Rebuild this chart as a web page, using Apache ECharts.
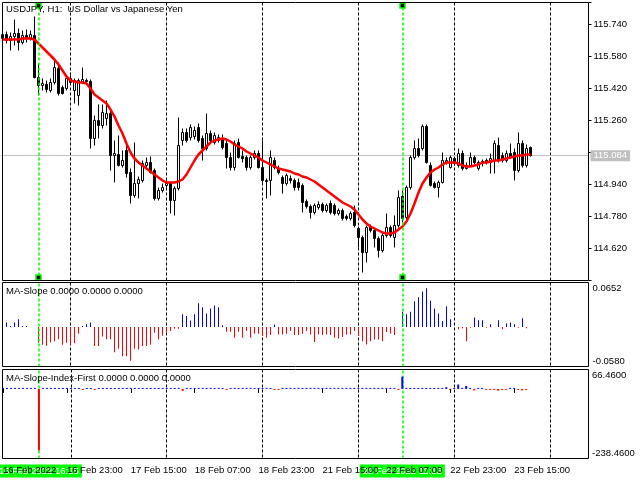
<!DOCTYPE html>
<html><head><meta charset="utf-8">
<script src="https://cdn.jsdelivr.net/npm/echarts@6/dist/echarts.min.js"></script>
<style>html,body{margin:0;padding:0;background:#fff}#c{width:641px;height:480px}</style>
</head><body><div id="c"></div>
<script>
// ---- categories (H1 bars, weekend skipped) ----
const tradingDays = ['16 Feb','17 Feb','18 Feb','21 Feb','22 Feb','23 Feb','24 Feb'];
const firstHour = 7;
const slotCount = 147;
const times = [];
for (let d = 0; d < tradingDays.length && times.length < slotCount; d++) {
  for (let h = (d === 0 ? firstHour : 0); h < 24 && times.length < slotCount; h++) {
    times.push(tradingDays[d] + ' ' + String(h).padStart(2, '0') + ':00');
  }
}
const tickLabels = ['16 Feb 2022','16 Feb 23:00','17 Feb 15:00','18 Feb 07:00','18 Feb 23:00','21 Feb 15:00','22 Feb 07:00','22 Feb 23:00','23 Feb 15:00'];
const tickEvery = 16;

// ---- USDJPY H1 OHLC ----
const open = [115.670,115.690,115.660,115.680,115.695,115.650,115.685,115.670,115.685,115.475,
115.435,115.440,115.410,115.450,115.520,115.425,115.420,115.470,115.410,115.385,
115.450,115.460,115.455,115.170,115.260,115.235,115.270,115.295,115.085,115.090,
115.035,115.110,115.000,114.885,114.945,114.960,115.035,115.050,115.010,114.870,
114.910,114.935,114.945,114.860,114.920,115.160,115.200,115.175,115.180,115.225,
115.170,115.120,115.195,115.150,115.160,115.170,115.145,115.075,115.025,115.150,
115.080,115.075,115.025,115.075,115.095,115.025,114.960,114.960,115.060,115.020,
114.975,114.945,114.970,114.960,114.950,114.935,114.855,114.830,114.800,114.825,
114.840,114.810,114.845,114.835,114.795,114.810,114.780,114.770,114.800,114.720,
114.675,114.600,114.725,114.710,114.670,114.610,114.685,114.725,114.675,114.735,
114.880,114.775,114.925,115.075,115.120,115.120,115.230,115.035,114.945,114.925,
114.950,115.050,115.025,115.070,115.035,115.095,115.020,115.035,115.075,115.020,
115.055,115.060,115.050,115.060,115.135,115.085,115.060,115.095,115.100,115.010,
115.145,115.035,115.125];
const close = [115.690,115.660,115.680,115.695,115.650,115.685,115.670,115.690,115.475,115.435,
115.445,115.415,115.450,115.525,115.395,115.395,115.470,115.450,115.460,115.460,
115.465,115.455,115.170,115.260,115.235,115.300,115.295,115.085,115.095,115.035,
115.060,114.995,114.885,114.945,114.965,115.045,115.050,115.000,114.870,114.910,
114.925,114.945,114.860,114.920,115.135,115.200,115.160,115.225,115.210,115.160,
115.120,115.195,115.160,115.185,115.175,115.125,115.075,115.025,115.145,115.075,
115.070,115.025,115.075,115.095,115.025,114.960,114.955,115.075,115.025,115.000,
114.945,114.985,114.960,114.925,114.925,114.850,114.830,114.800,114.835,114.840,
114.810,114.835,114.800,114.795,114.810,114.770,114.770,114.795,114.735,114.675,
114.600,114.725,114.710,114.670,114.610,114.685,114.725,114.685,114.735,114.875,
114.770,114.925,115.075,115.120,115.085,115.230,115.050,114.935,114.925,114.950,
115.060,115.060,115.075,115.045,115.095,115.020,115.035,115.075,115.050,115.050,
115.045,115.050,115.070,115.145,115.060,115.060,115.095,115.075,115.010,115.145,
115.035,115.120,115.084];
const low = [115.650,115.645,115.610,115.635,115.610,115.640,115.650,115.660,115.470,115.385,
115.410,115.400,115.400,115.440,115.385,115.390,115.410,115.440,115.345,115.335,
115.445,115.445,115.120,115.135,115.170,115.220,115.235,115.010,114.950,115.030,
115.025,114.975,114.845,114.875,114.870,114.950,115.025,114.995,114.860,114.860,
114.900,114.925,114.795,114.785,114.910,115.135,115.150,115.160,115.165,115.150,
115.060,115.110,115.150,115.140,115.150,115.115,115.020,115.010,115.010,115.070,
115.050,115.010,115.015,115.065,115.020,114.950,114.870,114.885,115.015,114.990,
114.895,114.935,114.945,114.910,114.910,114.800,114.820,114.770,114.790,114.815,
114.800,114.800,114.790,114.785,114.785,114.760,114.760,114.760,114.725,114.625,
114.500,114.550,114.700,114.625,114.575,114.600,114.675,114.675,114.625,114.725,
114.750,114.765,114.915,115.065,115.075,115.110,115.045,114.930,114.920,114.875,
114.945,115.040,115.020,115.035,115.025,115.010,115.015,115.030,115.040,115.010,
115.030,115.040,114.995,114.995,115.050,115.050,115.050,115.070,114.960,115.000,
115.025,115.025,115.080];
const high = [115.710,115.705,115.700,115.765,115.720,115.710,115.715,115.710,115.780,115.545,
115.470,115.460,115.470,115.560,115.550,115.435,115.480,115.485,115.470,115.470,
115.525,115.470,115.465,115.285,115.340,115.340,115.360,115.310,115.160,115.185,
115.110,115.150,115.020,115.150,114.980,115.060,115.075,115.080,115.020,114.925,
114.945,114.960,114.955,114.930,115.275,115.220,115.220,115.240,115.230,115.245,
115.185,115.295,115.210,115.200,115.190,115.190,115.160,115.100,115.160,115.170,
115.110,115.085,115.085,115.110,115.110,115.160,114.970,115.110,115.075,115.035,
114.985,114.995,114.985,114.970,114.970,114.945,114.865,114.840,114.845,114.855,
114.850,114.845,114.860,114.845,114.820,114.820,114.790,114.805,114.835,114.730,
114.685,114.735,114.740,114.720,114.680,114.695,114.795,114.735,114.785,114.910,
114.910,114.935,115.085,115.160,115.170,115.240,115.240,115.050,114.955,114.960,
115.100,115.075,115.085,115.080,115.120,115.110,115.050,115.100,115.085,115.060,
115.065,115.070,115.095,115.160,115.175,115.100,115.110,115.145,115.120,115.200,
115.160,115.140,115.130];

// ---- moving average (red line) ----
const maValues = [115.665,115.665,115.665,115.665,115.665,115.670,115.670,115.670,115.665,115.645,
115.625,115.605,115.585,115.565,115.540,115.510,115.480,115.460,115.455,115.450,
115.450,115.445,115.420,115.390,115.375,115.360,115.345,115.315,115.280,115.235,
115.195,115.145,115.100,115.070,115.050,115.035,115.020,115.005,114.990,114.975,
114.960,114.950,114.950,114.950,114.955,114.965,114.990,115.025,115.060,115.090,
115.110,115.130,115.150,115.160,115.165,115.170,115.165,115.155,115.140,115.130,
115.120,115.105,115.095,115.085,115.075,115.060,115.050,115.040,115.030,115.020,
115.015,115.010,115.005,114.995,114.990,114.980,114.975,114.965,114.955,114.940,
114.925,114.910,114.895,114.880,114.865,114.850,114.840,114.830,114.815,114.790,
114.765,114.745,114.730,114.720,114.710,114.700,114.695,114.695,114.700,114.715,
114.730,114.755,114.795,114.845,114.900,114.945,114.975,115.000,115.015,115.025,
115.040,115.050,115.050,115.050,115.045,115.035,115.030,115.030,115.035,115.040,
115.050,115.050,115.055,115.060,115.060,115.065,115.070,115.075,115.080,115.085,
115.085,115.090,115.090];

// ---- MA-Slope histogram ----
const slopeValues = [0,0.0064,0.0015,0.0064,0.0113,0.0015,0.0015,0,0,-0.023,
-0.026,-0.0275,-0.0225,-0.021,-0.018,-0.026,-0.023,-0.026,-0.024,-0.010,
0.0015,0.004,0.0064,-0.028,-0.028,-0.014,-0.018,-0.018,-0.037,-0.032,
-0.043,-0.043,-0.0495,-0.032,-0.033,-0.028,-0.028,-0.026,-0.0085,-0.0185,
-0.013,-0.0085,-0.006,-0.0025,-0.0025,0.0187,0.016,0.0094,0.0187,0.0346,
0.029,0.0198,0.0272,0.0316,0.029,0.0025,-0.0069,-0.0069,-0.0158,-0.0069,
-0.0158,-0.006,-0.0158,-0.0099,-0.0099,-0.0134,-0.0158,-0.0119,0.0035,-0.0109,
-0.0109,-0.0099,-0.006,-0.0119,-0.0119,-0.0099,-0.006,-0.0109,-0.022,-0.0109,
-0.0119,-0.0109,-0.0119,-0.0158,-0.0168,-0.0149,-0.0109,-0.0109,-0.006,-0.0134,
-0.0208,-0.0257,-0.0208,-0.0183,-0.0183,-0.0208,-0.0074,-0.0099,-0.0119,0,
0.0223,0.0188,0.0223,0.0376,0.0436,0.052,0.0569,0.0386,0.0272,0.0198,
0.0089,0.0302,0.0114,0,-0.0035,-0.002,-0.0208,-0.001,0.0139,0.0099,
0.0099,-0.001,0.004,0,0.0099,-0.0035,0.005,0.0064,0.004,-0.001,
0.0129,-0.002,0];

// ---- MA-Slope-Index-First histogram ----
const indexValues = [0.5,0.5,0.5,0.5,0.5,0.5,0.5,0.5,0.5,-211,
0.5,0.5,0.5,0.5,0.5,0.5,0.5,0.5,0.5,0.5,
-1.5,0.5,0.5,-1.5,0.5,0.5,0.5,0.5,0.5,0.5,
0.5,0.5,0.5,0.5,0.5,0.5,0.5,0.5,0.5,0.5,
0.5,0.5,0.5,0.5,0.5,-7,0.5,0.5,0.5,0.5,
0.5,0.5,0.5,0.5,0.5,0.5,-1.5,0.5,0.5,0.5,
0.5,0.5,0.5,0.5,0.5,0.5,0.5,0.5,-1.5,-1.5,
0.5,0.5,0.5,0.5,0.5,0.5,0.5,0.5,0.5,0.5,
0.5,0.5,0.5,0.5,0.5,0.5,0.5,0.5,0.5,0.5,
0.5,0.5,0.5,0.5,0.5,0.5,0.5,0.5,0.5,-1.5,
42,0.5,0.5,0.5,0.5,0.5,0.5,0.5,0.5,0.5,
0.5,6,-3,0.5,15,0.5,10,0.5,-5,0.5,
0.5,-1.5,-1.5,-1.5,-6,-1.5,-1.5,0.5,0.5,-1.5,
-5,-1.5,null];

// ---- axis extents / annotations ----
const priceMin = 114.46, priceMax = 115.85, priceStep = 0.16;
const slopeMin = -0.0580, slopeMax = 0.0652;
const indexMin = -238.46, indexMax = 66.46;
const lastPrice = close[close.length - 1];
const vLineBars = ['16 Feb 16:00', '22 Feb 11:00'];
const vLineLabels = ['16 Feb 2022 16:15', '22 Feb 2022 11:15'];

const FONT = 'Liberation Sans';
const candleData = open.map((o, i) => [o, close[i], low[i], high[i]]);
const signColor = p => (p.value >= 0 ? '#0000ff' : '#ff0000');

const gridDefs = [
  {left: 0.5, width: 588, top: 2.5, height: 278},
  {left: 0.5, width: 588, top: 282.5, height: 84},
  {left: 0, width: 588, top: 369.5, height: 89}
];

function xAxisFor(i) {
  const bottom = i === 2;
  return {
    type: 'category', gridIndex: i, data: times, boundaryGap: true, z: bottom ? 6 : 0,
    axisLine: {show: false},
    axisTick: {show: bottom, alignWithLabel: true, length: 4, lineStyle: {color: '#000'},
      interval: (idx) => idx % tickEvery === 0 && idx / tickEvery < tickLabels.length},
    axisLabel: {show: bottom, align: 'left', margin: 7, fontFamily: FONT, fontSize: 9.5, color: '#000',
      interval: (idx) => idx % tickEvery === 0 && idx / tickEvery < tickLabels.length,
      formatter: (v, idx) => tickLabels[idx / tickEvery] || ''},
    splitLine: {show: true, alignWithLabel: true,
      interval: (idx, v) => typeof v === 'string' && v.endsWith(' 00:00'),
      lineStyle: {color: '#000', type: [3, 2], width: 1}}
  };
}

function edgeAxis(i, mn, mx, dec) {
  return {
    type: 'value', gridIndex: i, position: 'right', min: mn, max: mx, interval: mx - mn,
    axisLine: {show: false}, splitLine: {show: false},
    axisTick: {show: false},
    axisLabel: {margin: 4, fontFamily: FONT, fontSize: 9.5, color: '#000',
      formatter: v => (v > 0 ? '{t|' : '{b|') + v.toFixed(dec) + '}',
      rich: {t: {fontFamily: FONT, fontSize: 9.5, color: '#000', padding: [11, 0, 0, 0]},
             b: {fontFamily: FONT, fontSize: 9.5, color: '#000', padding: [0, 0, 11, 0]}}}
  };
}

function vLines(withLabel, zv) {
  return {
    silent: true, symbol: 'none', animation: false, z: zv,
    lineStyle: {color: '#00ff00', type: [3, 2], width: 1.5},
    label: withLabel ? {show: true, position: 'start', distance: 6, formatter: p => vLineLabels[p.dataIndex],
      backgroundColor: '#00ff00', color: '#ffffff', fontFamily: FONT, fontSize: 9.5, padding: [2, 3, 1, 3]} : {show: false},
    emphasis: {disabled: true},
    data: vLineBars.map(b => ({xAxis: b}))
  };
}

const option = {
  animation: false,
  backgroundColor: '#ffffff',
  title: [
    {text: 'USDJPY, H1:  US Dollar vs Japanese Yen', left: 6, top: 4, padding: 0,
     textStyle: {fontFamily: FONT, fontSize: 9.5, fontWeight: 'normal', color: '#000'}},
    {text: 'MA-Slope 0.0000 0.0000 0.0000', left: 6, top: 286, padding: 0,
     textStyle: {fontFamily: FONT, fontSize: 9.5, fontWeight: 'normal', color: '#000'}},
    {text: 'MA-Slope-Index-First 0.0000 0.0000 0.0000', left: 6, top: 373, padding: 0,
     textStyle: {fontFamily: FONT, fontSize: 9.5, fontWeight: 'normal', color: '#000'}}
  ],
  grid: gridDefs,
  xAxis: [xAxisFor(0), xAxisFor(1), xAxisFor(2)],
  yAxis: [
    {type: 'value', gridIndex: 0, position: 'right', min: priceMin, max: priceMax, interval: priceStep,
     axisLine: {show: false}, splitLine: {show: false},
     axisTick: {show: true, length: 3, lineStyle: {color: '#000'}},
     axisLabel: {margin: 5, fontFamily: FONT, fontSize: 9.5, color: '#000',
       formatter: v => (v < priceMin + 0.05 || v > priceMax - 0.05 || Math.abs(v - lastPrice) < 0.03) ? '' : v.toFixed(3)}},
    edgeAxis(1, slopeMin, slopeMax, 4),
    edgeAxis(2, indexMin, indexMax, 4)
  ],
  graphic: [
    {type: 'rect', z: 50, silent: true, shape: {x: 2.5, y: 2.5, width: 586, height: 278}, style: {fill: null, stroke: '#000', lineWidth: 1}},
    {type: 'rect', z: 50, silent: true, shape: {x: 2.5, y: 282.5, width: 586, height: 84}, style: {fill: null, stroke: '#000', lineWidth: 1}},
    {type: 'rect', z: 50, silent: true, shape: {x: 2.5, y: 369.5, width: 586, height: 89}, style: {fill: null, stroke: '#000', lineWidth: 1}}
  ],
  series: [
    {type: 'candlestick', xAxisIndex: 0, yAxisIndex: 0, data: candleData, barWidth: 3,
     itemStyle: {color: '#ffffff', color0: '#000000', borderColor: '#000000', borderColor0: '#000000', borderWidth: 1},
     markLine: {
       silent: true, symbol: 'none', z: 1, precision: 3,
       lineStyle: {color: '#c0c0c0', type: 'solid', width: 1},
       label: {show: true, position: 'end', distance: 2, formatter: () => lastPrice.toFixed(3),
         backgroundColor: '#c0c0c0', color: '#ffffff', fontFamily: FONT, fontSize: 9.5, padding: [1, 3, 0, 3]},
       data: [{yAxis: lastPrice}]
     }
    },
    {type: 'line', xAxisIndex: 0, yAxisIndex: 0, data: maValues, symbol: 'none', z: 3,
     lineStyle: {color: '#ff0000', width: 2.5}, itemStyle: {color: '#ff0000'},
     markLine: vLines(false, 5),
     markPoint: {
       symbol: 'rect', symbolSize: 5, silent: true,
       itemStyle: {color: '#000000', borderColor: '#00ff00', borderWidth: 1.5},
       label: {show: false},
       data: vLineBars.flatMap(b => [
         {coord: [b, priceMax], symbolOffset: [0, 3]},
         {coord: [b, priceMin], symbolOffset: [0, -3]}
       ])
     }
    },
    {type: 'bar', xAxisIndex: 1, yAxisIndex: 1, data: slopeValues, barWidth: 1,
     itemStyle: {color: signColor}, markLine: vLines(false, 5)},
    {type: 'bar', xAxisIndex: 2, yAxisIndex: 2, data: indexValues, barWidth: 2, barMinHeight: 1,
     itemStyle: {color: signColor}, markLine: vLines(true, 1)}
  ]
};
echarts.init(document.getElementById('c'), null, {renderer: 'canvas'}).setOption(option);
</script></body></html>
